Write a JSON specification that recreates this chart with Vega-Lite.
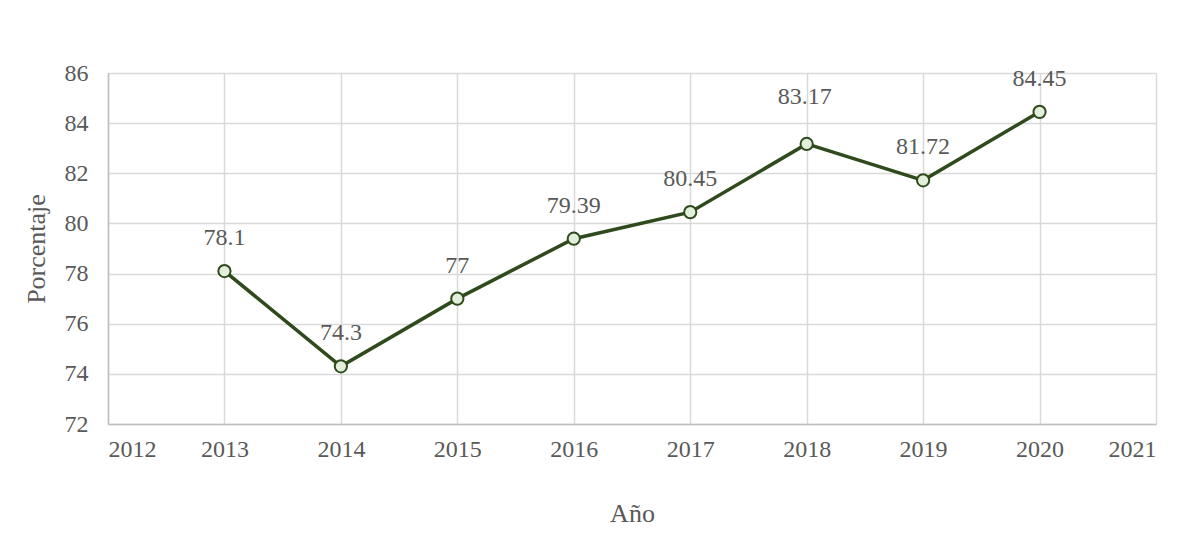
{
  "$schema": "https://vega.github.io/schema/vega-lite/v6.json",
  "width": 1048,
  "height": 351,
  "autosize": {"type": "none"},
  "padding": {"left": 108, "top": 73, "right": 43, "bottom": 129},
  "background": "white",
  "config": {
    "view": {"stroke": null},
    "font": "Liberation Serif",
    "axis": {
      "labelFont": "Liberation Serif",
      "titleFont": "Liberation Serif",
      "labelColor": "#595959",
      "titleColor": "#595959",
      "labelFontSize": 24,
      "titleFontSize": 26,
      "titleFontWeight": "normal",
      "gridColor": "#d9d9d9",
      "gridWidth": 1.5,
      "domainColor": "#bfbfbf",
      "domainWidth": 1.5,
      "ticks": false
    }
  },
  "data": {
    "values": [
      {"anio": 2013, "pct": 78.1, "label": "78.1"},
      {"anio": 2014, "pct": 74.3, "label": "74.3"},
      {"anio": 2015, "pct": 77, "label": "77"},
      {"anio": 2016, "pct": 79.39, "label": "79.39"},
      {"anio": 2017, "pct": 80.45, "label": "80.45"},
      {"anio": 2018, "pct": 83.17, "label": "83.17"},
      {"anio": 2019, "pct": 81.72, "label": "81.72"},
      {"anio": 2020, "pct": 84.45, "label": "84.45"}
    ]
  },
  "encoding": {
    "x": {
      "field": "anio",
      "type": "quantitative",
      "scale": {"domain": [2012, 2021], "nice": false, "zero": false},
      "axis": {
        "title": "Año",
        "values": [2012, 2013, 2014, 2015, 2016, 2017, 2018, 2019, 2020, 2021],
        "format": "d",
        "labelPadding": 13,
        "titlePadding": 39,
        "grid": true
      }
    },
    "y": {
      "field": "pct",
      "type": "quantitative",
      "scale": {"domain": [72, 86], "nice": false, "zero": false},
      "axis": {
        "title": "Porcentaje",
        "values": [72, 74, 76, 78, 80, 82, 84, 86],
        "labelPadding": 20,
        "titlePadding": 15,
        "domain": true,
        "grid": true
      }
    }
  },
  "layer": [
    {
      "mark": {"type": "line", "color": "#2f4a1c", "strokeWidth": 3.5}
    },
    {
      "mark": {"type": "point", "filled": true, "fill": "#e2efda", "stroke": "#2f4a1c", "strokeWidth": 2, "size": 150, "opacity": 1}
    },
    {
      "transform": [{"filter": "datum.anio != 2018"}],
      "mark": {"type": "text", "dy": -33, "fontSize": 24, "color": "#595959", "font": "Liberation Serif"},
      "encoding": {"text": {"field": "label"}}
    },
    {
      "transform": [{"filter": "datum.anio == 2018"}],
      "mark": {"type": "text", "dy": -47, "dx": -2, "fontSize": 24, "color": "#595959", "font": "Liberation Serif"},
      "encoding": {"text": {"field": "label"}}
    }
  ]
}
